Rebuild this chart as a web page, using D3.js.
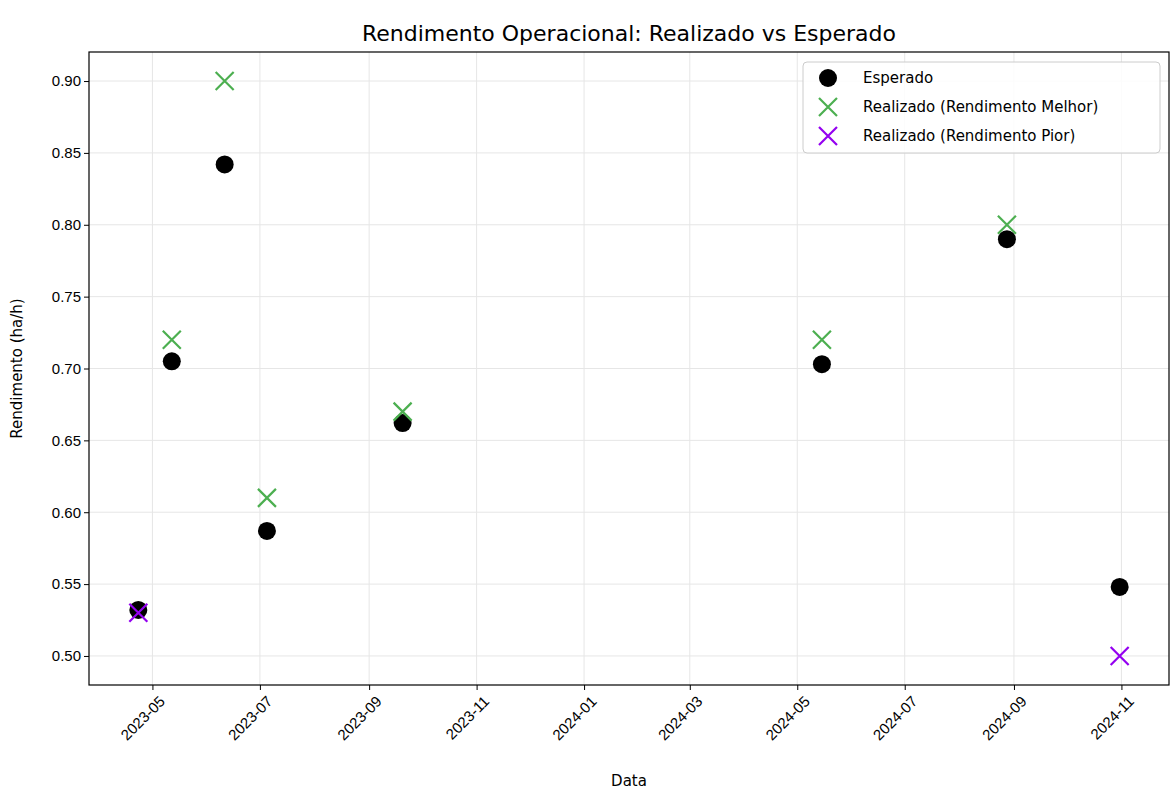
<!DOCTYPE html>
<html><head><meta charset="utf-8">
<script src="https://cdn.jsdelivr.net/npm/d3@7"></script>
<style>body{margin:0;background:#fff;font-family:"DejaVu Sans",sans-serif;}</style>
</head><body>
<svg id="chart" width="1176" height="801"></svg>
<script>
const dates = ['2023-04-23', '2023-05-12', '2023-06-11', '2023-07-05', '2023-09-20', '2024-05-15', '2024-08-28', '2024-10-31'];
const esperado = [0.532, 0.705, 0.842, 0.587, 0.662, 0.703, 0.790, 0.548];
const realizado = [0.53, 0.72, 0.90, 0.61, 0.67, 0.72, 0.80, 0.50];
const yTicks = [0.50, 0.55, 0.60, 0.65, 0.70, 0.75, 0.80, 0.85, 0.90];
const xTicks = ['2023-05', '2023-07', '2023-09', '2023-11', '2024-01', '2024-03', '2024-05', '2024-07', '2024-09', '2024-11'];

const parse = d3.timeParse('%Y-%m-%d');
const parseM = d3.timeParse('%Y-%m');
const L = 89, R = 1169, T = 52, B = 685;
const svg = d3.select('#chart');
const x = d3.scaleTime().domain([parse('2023-03-26'), parse('2024-11-28')]).range([L, R]);
const y = d3.scaleLinear().domain([0.4798, 0.9202]).range([B, T]);

// grid
svg.append('g').selectAll('line').data(xTicks).join('line')
    .attr('x1', d => x(parseM(d))).attr('x2', d => x(parseM(d)))
    .attr('y1', T).attr('y2', B).attr('stroke', '#e6e6e6');
svg.append('g').selectAll('line').data(yTicks).join('line')
    .attr('y1', d => y(d)).attr('y2', d => y(d))
    .attr('x1', L).attr('x2', R).attr('stroke', '#e6e6e6');

// axes
const xa = svg.append('g').attr('transform', `translate(0,${B})`)
    .call(d3.axisBottom(x).tickValues(xTicks.map(parseM)).tickFormat(d3.timeFormat('%Y-%m')).tickSizeOuter(0).tickSize(5));
xa.attr('font-size', 15).selectAll('text').attr('fill', '#000')
    .attr('text-anchor', 'end').attr('dx', '-0.2em').attr('dy', '0.9em')
    .attr('transform', 'rotate(-45)');
const ya = svg.append('g').attr('transform', `translate(${L},0)`)
    .call(d3.axisLeft(y).tickValues(yTicks).tickFormat(d3.format('.2f')).tickSizeOuter(0).tickSize(5));
ya.attr('font-size', 15).selectAll('text').attr('fill', '#000');
svg.selectAll('.domain').remove();
svg.append('rect').attr('x', L).attr('y', T).attr('width', R - L).attr('height', B - T)
    .attr('fill', 'none').attr('stroke', '#000').attr('stroke-width', 1.2);

// points
svg.append('g').selectAll('circle').data(esperado).join('circle')
    .attr('cx', (d, i) => x(parse(dates[i]))).attr('cy', d => y(d)).attr('r', 9).attr('fill', '#000');
const s = 9;
const cross = (sel, c) => sel.append('path')
    .attr('d', `M${-s},${-s}L${s},${s}M${-s},${s}L${s},${-s}`)
    .attr('stroke', c).attr('stroke-width', 2.2).attr('fill', 'none');
svg.append('g').selectAll('g').data(realizado).join('g')
    .attr('transform', (d, i) => `translate(${x(parse(dates[i]))},${y(d)})`)
    .each(function (d, i) { cross(d3.select(this), d >= esperado[i] ? '#4caf50' : '#9400f0'); });

// title & labels
svg.append('text').attr('x', (L + R) / 2).attr('y', 41).attr('text-anchor', 'middle')
    .attr('font-size', 22).text('Rendimento Operacional: Realizado vs Esperado');
svg.append('text').attr('x', (L + R) / 2).attr('y', 786).attr('text-anchor', 'middle')
    .attr('font-size', 15).text('Data');
svg.append('text').attr('transform', `translate(22,${(T + B) / 2}) rotate(-90)`).attr('text-anchor', 'middle')
    .attr('font-size', 15).text('Rendimento (ha/h)');

// legend
const lg = svg.append('g').attr('transform', 'translate(803,62)');
lg.append('rect').attr('width', 357).attr('height', 91).attr('rx', 4)
    .attr('fill', '#fff').attr('fill-opacity', 0.85).attr('stroke', '#ccc');
const items = [['Esperado', 'dot', '#000'], ['Realizado (Rendimento Melhor)', 'x', '#4caf50'], ['Realizado (Rendimento Pior)', 'x', '#9400f0']];
items.forEach((it, i) => {
    const g = lg.append('g').attr('transform', `translate(25,${16 + i * 29})`);
    if (it[1] === 'dot') g.append('circle').attr('r', 9).attr('fill', it[2]);
    else cross(g, it[2]);
    g.append('text').attr('x', 35).attr('y', 5).attr('font-size', 15).text(it[0]);
});
</script>
</body></html>
